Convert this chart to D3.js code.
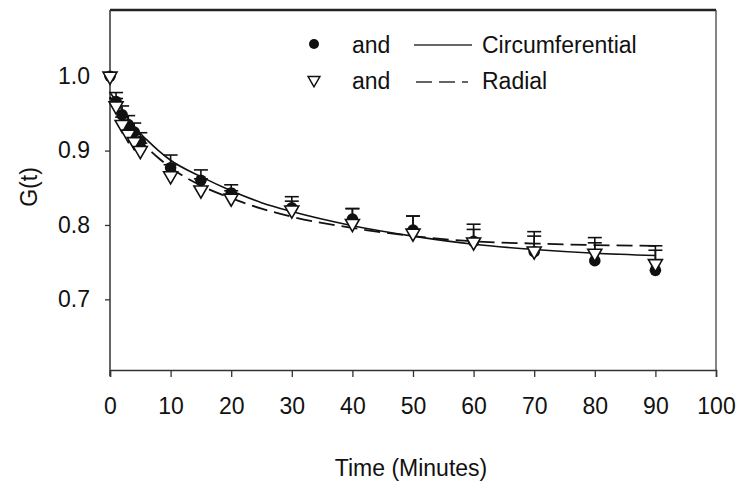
<!DOCTYPE html>
<html>
<head>
<meta charset="utf-8">
<script src="https://cdn.jsdelivr.net/npm/d3@7"></script>
<style>
  body { margin: 0; background: #fff; }
  svg text { font-family: "Liberation Sans", Arial, sans-serif; fill: #111; }
</style>
</head>
<body>
<svg id="chart"></svg>
<script>
// measured points (minutes)
const times = [0, 1, 2, 3, 4, 5, 10, 15, 20, 30, 40, 50, 60, 70, 80, 90];
const circValues = [1.0, 0.966, 0.948, 0.935, 0.925, 0.912, 0.877, 0.860, 0.843, 0.823, 0.808, 0.793, 0.778, 0.764, 0.752, 0.739];
const circErr    = [0, 0.012, 0.012, 0.012, 0.012, 0.012, 0.017, 0.014, 0.011, 0.015, 0.014, 0.019, 0.016, 0.021, 0.024, 0.027];
const radValues  = [1.0, 0.960, 0.935, 0.922, 0.912, 0.900, 0.866, 0.847, 0.836, 0.820, 0.802, 0.789, 0.777, 0.765, 0.762, 0.748];
const radErr     = [0, 0.010, 0.010, 0.010, 0.010, 0.010, 0.015, 0.015, 0.010, 0.012, 0.020, 0.023, 0.024, 0.026, 0.021, 0.024];

// fitted curves
const fitTimes = [0, 2, 4, 6, 8, 10, 15, 20, 25, 30, 40, 50, 60, 70, 80, 90];
const circFit  = [0.978, 0.955, 0.932, 0.915, 0.900, 0.887, 0.865, 0.846, 0.830, 0.818, 0.799, 0.785, 0.774, 0.767, 0.762, 0.759];
const radFit   = [0.972, 0.945, 0.922, 0.905, 0.890, 0.877, 0.853, 0.836, 0.822, 0.811, 0.796, 0.785, 0.778, 0.775, 0.773, 0.772];

const xTicks = [0, 10, 20, 30, 40, 50, 60, 70, 80, 90, 100];
const yTicks = [0.7, 0.8, 0.9, 1.0];

function getConfig() {
  let width = 740, height = 490;
  let plot = { left: 110, right: 716, top: 10, bottom: 370 };
  let fontSize = 23;
  let container = d3.select("#chart").attr("width", width).attr("height", height);
  return { width, height, plot, fontSize, container };
}

function drawChart() {
  let { plot, fontSize, container: svg } = getConfig();

  let x = d3.scaleLinear().domain([0, 100]).range([plot.left, plot.right]);
  let y = d3.scaleLinear().domain([0.605, 1.089]).range([plot.bottom, plot.top]);

  // frame
  svg.append("line").attr("x1", plot.left).attr("x2", plot.right).attr("y1", plot.top).attr("y2", plot.top)
    .attr("stroke", "#222").attr("stroke-width", 2.5);
  svg.append("line").attr("x1", plot.right).attr("x2", plot.right).attr("y1", plot.top).attr("y2", plot.bottom)
    .attr("stroke", "#333").attr("stroke-width", 1.2);

  // axes
  let xAxis = svg.append("g")
    .attr("transform", `translate(0,${plot.bottom})`)
    .call(d3.axisBottom(x).tickValues(xTicks).tickFormat(d3.format("d")).tickSizeOuter(0).tickSize(7).tickPadding(21));
  let yAxis = svg.append("g")
    .attr("transform", `translate(${plot.left},0)`)
    .call(d3.axisLeft(y).tickValues(yTicks).tickFormat(d3.format(".1f")).tickSizeOuter(0).tickSize(5).tickPadding(15));

  [xAxis, yAxis].forEach(g => {
    g.select(".domain").attr("stroke", "#333").attr("stroke-width", 1.5);
    g.selectAll(".tick line").attr("stroke", "#333").attr("stroke-width", 1.3);
    g.selectAll(".tick text").attr("font-size", fontSize).attr("fill", "#111");
  });
  // left axis line runs the full height of the frame
  yAxis.select(".domain").attr("d", `M0,${plot.top}V${plot.bottom + 6}`);

  // axis titles
  svg.append("text").attr("x", 411).attr("y", 476).attr("text-anchor", "middle")
    .attr("font-size", fontSize).text("Time (Minutes)");
  svg.append("text").attr("transform", "translate(37,187) rotate(-90)").attr("text-anchor", "middle")
    .attr("font-size", fontSize).text("G(t)");

  // fitted curves
  let line = d3.line().x(d => x(d[0])).y(d => y(d[1])).curve(d3.curveMonotoneX);
  svg.append("path").datum(fitTimes.map((t, i) => [t, circFit[i]]))
    .attr("d", line).attr("fill", "none").attr("stroke", "#111").attr("stroke-width", 1.6);
  svg.append("path").datum(fitTimes.map((t, i) => [t, radFit[i]]))
    .attr("d", line).attr("fill", "none").attr("stroke", "#111").attr("stroke-width", 1.8)
    .attr("stroke-dasharray", "16,7");

  // error bars (upper only)
  function errorBars(vals, errs) {
    let data = times.map((t, i) => ({ t, v: vals[i], e: errs[i] })).filter(d => d.e > 0);
    let g = svg.append("g").attr("stroke", "#111").attr("stroke-width", 1.6);
    g.selectAll("line.bar").data(data).join("line").attr("class", "bar")
      .attr("x1", d => x(d.t)).attr("x2", d => x(d.t))
      .attr("y1", d => y(d.v)).attr("y2", d => y(d.v + d.e));
    g.selectAll("line.cap").data(data).join("line").attr("class", "cap")
      .attr("x1", d => x(d.t) - 7).attr("x2", d => x(d.t) + 7)
      .attr("y1", d => y(d.v + d.e)).attr("y2", d => y(d.v + d.e));
  }
  errorBars(circValues, circErr);
  errorBars(radValues, radErr);

  let tri = d3.symbol().type(d3.symbolTriangle).size(85);

  // markers
  svg.append("g").selectAll("circle").data(times.map((t, i) => [t, circValues[i]])).join("circle")
    .attr("cx", d => x(d[0])).attr("cy", d => y(d[1])).attr("r", 5.8).attr("fill", "#111");
  svg.append("g").selectAll("path").data(times.map((t, i) => [t, radValues[i]])).join("path")
    .attr("d", tri)
    .attr("transform", d => `translate(${x(d[0])},${y(d[1])}) rotate(180)`)
    .attr("fill", "#fff").attr("stroke", "#111").attr("stroke-width", 1.6);

  // legend
  let legend = svg.append("g");
  let legendTri = d3.symbol().type(d3.symbolTriangle).size(60);
  legend.append("circle").attr("cx", 314).attr("cy", 44).attr("r", 5).attr("fill", "#111");
  legend.append("path").attr("d", legendTri).attr("transform", "translate(314,80) rotate(180)")
    .attr("fill", "#fff").attr("stroke", "#111").attr("stroke-width", 1.5);
  legend.append("text").attr("x", 352).attr("y", 53).attr("font-size", fontSize).text("and");
  legend.append("text").attr("x", 352).attr("y", 89).attr("font-size", fontSize).text("and");
  legend.append("line").attr("x1", 414).attr("x2", 472).attr("y1", 45).attr("y2", 45)
    .attr("stroke", "#333").attr("stroke-width", 1.3);
  legend.append("line").attr("x1", 416).attr("x2", 468).attr("y1", 82).attr("y2", 82)
    .attr("stroke", "#333").attr("stroke-width", 1.3).attr("stroke-dasharray", "16,7");
  legend.append("text").attr("x", 482).attr("y", 53).attr("font-size", fontSize).text("Circumferential");
  legend.append("text").attr("x", 482).attr("y", 89).attr("font-size", fontSize).text("Radial");
}

drawChart();
</script>
</body>
</html>
